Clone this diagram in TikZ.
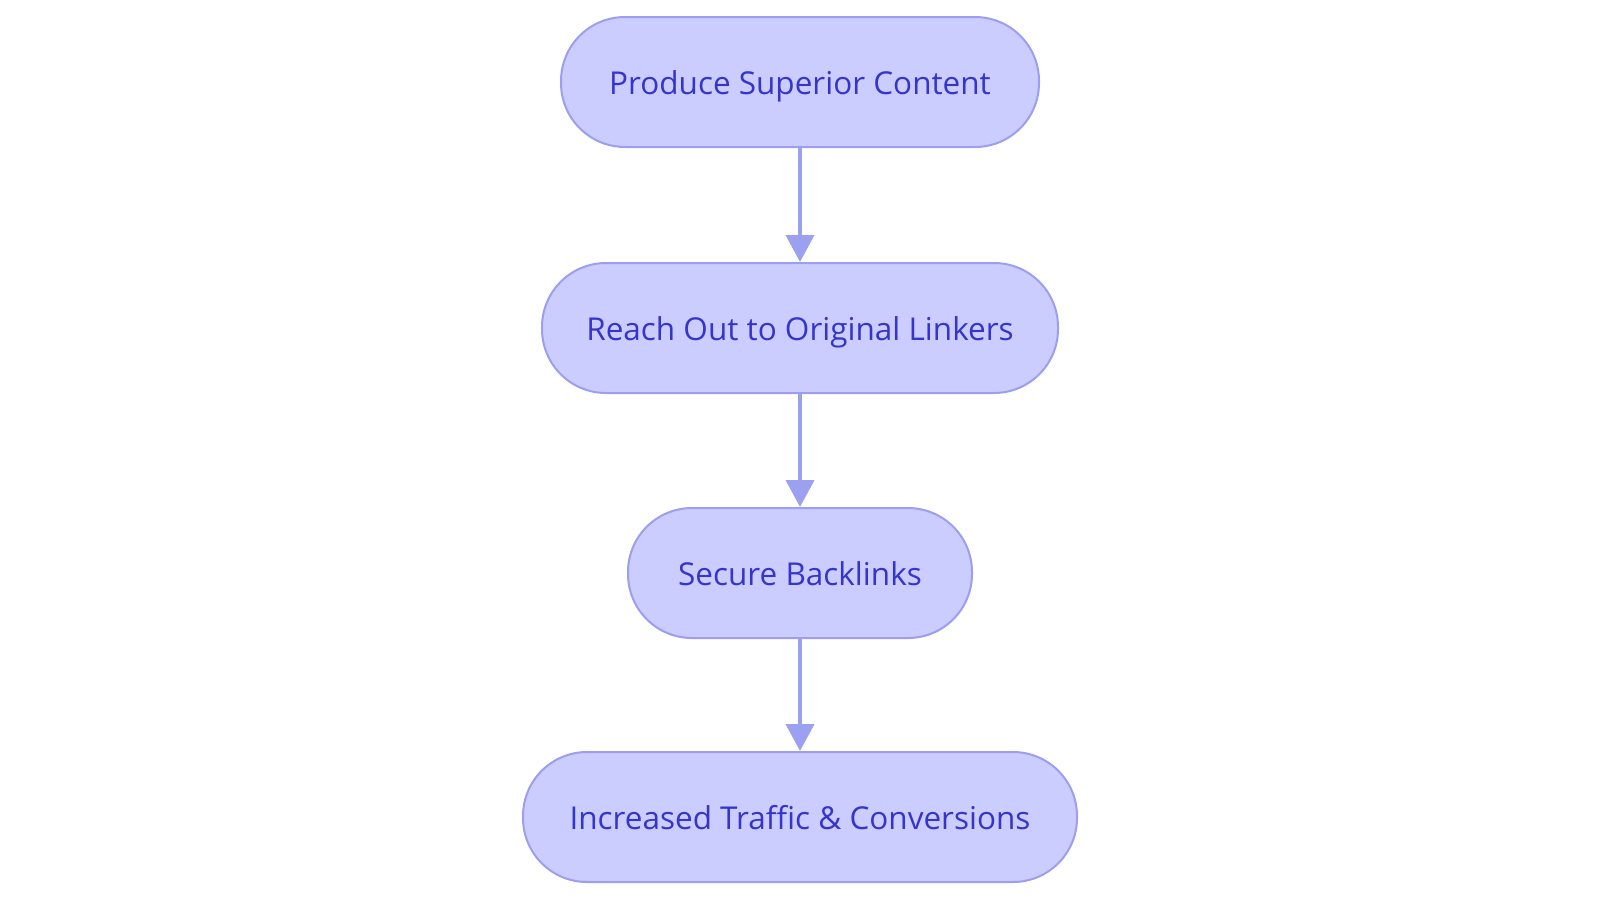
\documentclass[tikz,border=0pt]{standalone}
\usepackage{fontspec}
\setmainfont{Open Sans}
\usetikzlibrary{arrows.meta}
\definecolor{nodefill}{HTML}{CBCCFF}
\definecolor{nodeline}{HTML}{9C9EF0}
\definecolor{txt}{HTML}{3535CC}
\definecolor{arr}{HTML}{9CA0F0}
\begin{document}
\begin{tikzpicture}[x=1pt,y=-1pt,
  flowbox/.style={draw=nodeline,fill=nodefill,line width=2pt,rounded corners=64pt,
    minimum height=130pt,inner sep=0pt,text height=24pt,text depth=0pt,
    text=txt,font=\fontsize{31.5}{36}\selectfont},
  flowarrow/.style={draw=arr,line width=4pt,-{Triangle[width=28pt,length=27pt]}}]
\useasboundingbox (0,0) rectangle (1600,903);
\node[flowbox,minimum width=478pt] (a) at (800,82) {Produce Superior Content};
\node[flowbox,minimum width=516pt] (b) at (800,328) {Reach Out to Original Linkers};
\node[flowbox,minimum width=344pt] (c) at (800,573) {Secure Backlinks};
\node[flowbox,minimum width=554pt] (d) at (800,817) {Increased Traffic \& Conversions};
\draw[flowarrow] (a) -- (b);
\draw[flowarrow] (b) -- (c);
\draw[flowarrow] (c) -- (d);
\end{tikzpicture}
\end{document}
